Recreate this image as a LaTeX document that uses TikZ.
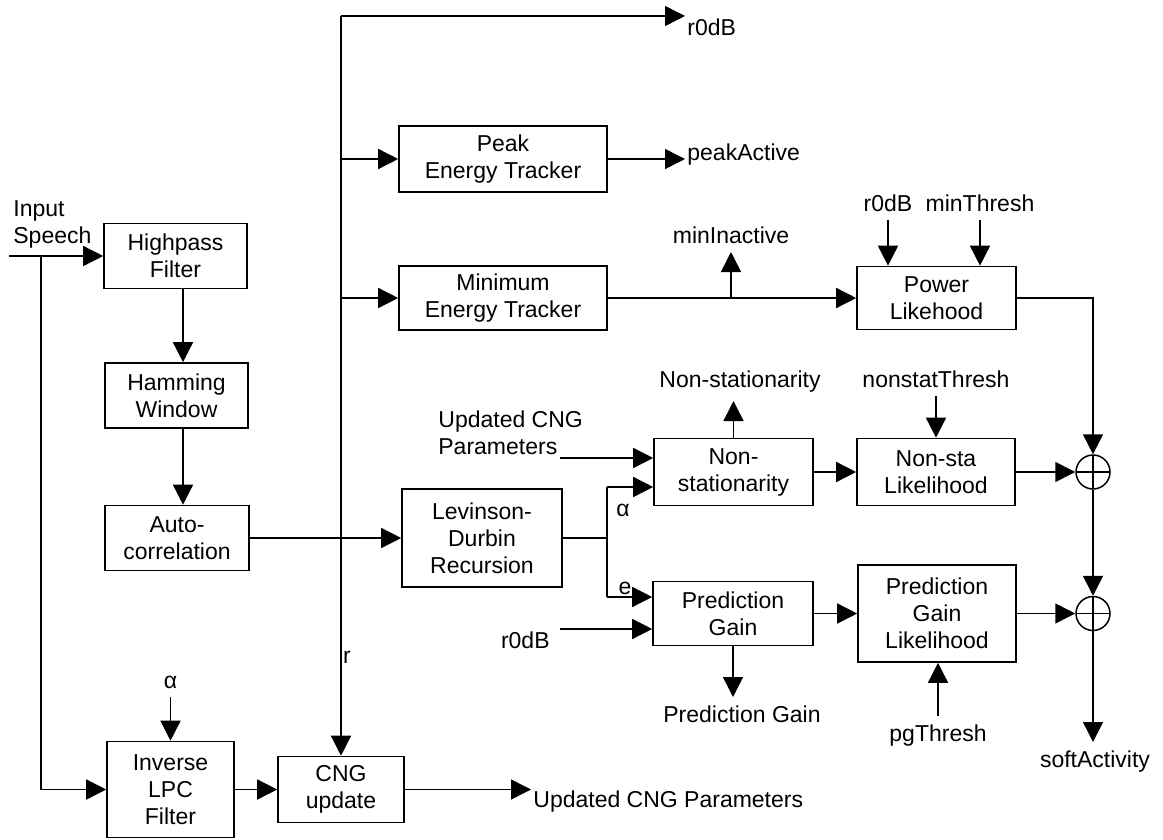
\documentclass[tikz,border=0pt]{standalone}
\usepackage{fontspec}
\setmainfont{Liberation Sans}
\usetikzlibrary{positioning,arrows.meta,shapes}

\begin{document}
\begin{tikzpicture}[
  x=0.5pt, y=-0.5pt,
  font=\fontsize{11.5}{13.5}\selectfont,
  blk/.style={rectangle, draw=black, line width=0.8pt, inner sep=2pt, align=center},
  lbl/.style={inner xsep=1pt, inner ysep=4pt},
  arr/.style={-{Triangle[length=10pt,width=10pt]}, line width=0.75pt},
  wire/.style={line width=0.75pt},
  sum/.style={circle, draw, line width=0.75pt, minimum size=17pt, inner sep=0pt,
              path picture={\draw[line width=0.75pt] (path picture bounding box.north) -- (path picture bounding box.south)
                            (path picture bounding box.west) -- (path picture bounding box.east);}}
]
\useasboundingbox (0,0) rectangle (1163,840);

% blocks
\node[blk, minimum width=71.5pt, minimum height=32.5pt] (hp)  at (175.5,256) {Highpass\\Filter};
\node[blk, minimum width=71.5pt, minimum height=32.5pt] (hw)  at (176.5,395.5) {Hamming\\Window};
\node[blk, minimum width=72pt,   minimum height=32.5pt] (ac)  at (177,538) {Auto-\\correlation};
\node[blk, minimum width=63.5pt, minimum height=48pt]   (lpc) at (170.5,789.5) {Inverse\\LPC\\Filter};
\node[blk, minimum width=63pt,   minimum height=33pt]   (cng) at (341,789.5) {CNG\\update};
\node[blk, minimum width=104pt,  minimum height=33pt]   (pk)  at (503,159) {Peak\\Energy Tracker};
\node[blk, minimum width=104pt,  minimum height=32pt]   (me)  at (503,298) {Minimum\\Energy Tracker};
\node[blk, minimum width=80pt,   minimum height=49pt]   (ld)  at (482,538) {Levinson-\\Durbin\\Recursion};
\node[blk, minimum width=79.5pt, minimum height=31.5pt] (pl)  at (936.5,298) {Power\\Likehood};
\node[blk, minimum width=79.5pt, minimum height=33.5pt] (ns)  at (733.5,472) {Non-\\stationarity};
\node[blk, minimum width=79pt,   minimum height=33.5pt] (nl)  at (936,472) {Non-sta\\Likelihood};
\node[blk, minimum width=80pt,   minimum height=32pt]   (pg)  at (733,613.5) {Prediction\\Gain};
\node[blk, minimum width=79pt,   minimum height=48.5pt] (gl)  at (937,613.5) {Prediction\\Gain\\Likelihood};
\node[sum] (s1) at (1093,472) {};
\node[sum] (s2) at (1093,613.5) {};

% labels
\node[anchor=north west, align=left, inner sep=1pt] (insp) at (11,198) {Input\\Speech};
\node[lbl, anchor=west]  (r0t)  at (685,27) {r0dB};
\node[lbl, anchor=west]  (pka)  at (685,155) {peakActive};
\node[lbl, anchor=south] (mina) at (731,252) {minInactive};
\node[lbl, anchor=south] (r0p)  at (888,220) {r0dB};
\node[lbl, anchor=south] (mth)  at (980,220) {minThresh};
\node[lbl, anchor=south] (nsa)  at (740,401) {Non-stationarity};
\node[lbl, anchor=south] (nth)  at (936,396) {nonstatThresh};
\node[anchor=north west, align=left, inner sep=1pt] (ucp) at (436,408) {Updated CNG\\Parameters};
\node[lbl, anchor=east]  (r0g)  at (552,640) {r0dB};
\node[lbl, anchor=north] (pga)  at (742,697) {Prediction Gain};
\node[lbl, anchor=north] (pgt)  at (938,716) {pgThresh};
\node[lbl, anchor=north] (sa)   at (1095,742) {softActivity};
\node[lbl, anchor=north west] (ucn) at (531,782) {Updated CNG Parameters};
\node[lbl, anchor=south] (al)   at (170.5,697) {α};
\node (rl) at (347,657) {r};
\node (ala) at (623,510) {α};
\node (el) at (625,588) {e};

\coordinate (ins) at (9,256);
\coordinate (ibr) at (41,256);
\coordinate (vx) at (183,0);
\coordinate (rtop) at (341,16);
\coordinate (jn) at (607,538);
\coordinate (ja) at (607,487);
\coordinate (je) at (607,597);
\coordinate (ucs) at (560,458);
\coordinate (r0s) at (560,629);

% connectors
\draw[arr] (ins) -- (hp.west);
\draw[arr] (ibr) |- (lpc.west);
\draw[arr] (hp.south -| vx) -- (hw.north -| vx);
\draw[arr] (hw.south -| vx) -- (ac.north -| vx);
\draw[arr] (ac.east) -- (ld.west);
\draw[arr] (al.south) -- (lpc.north);
\draw[arr] (lpc.east) -- (cng.west);
\draw[arr] (rtop) -- (cng.north);
\draw[arr] (rtop) -- (rtop -| r0t.west);
\draw[arr] (rtop |- pk.west) -- (pk.west);
\draw[arr] (rtop |- me.west) -- (me.west);
\draw[arr] (pk.east) -- (pk.east -| pka.west);
\draw[arr] (me.east) -- (pl.west);
\draw[arr] (me.east -| mina.south) -- (mina.south);
\draw[arr] (r0p.south) -- (r0p.south |- pl.north);
\draw[arr] (mth.south) -- (mth.south |- pl.north);
\draw[arr] (pl.east) -| (s1.north);
\draw[arr] (ucs) -- (ns.west |- ucs);
\draw[wire] (ld.east) -- (jn);
\draw[wire] (ja) -- (je);
\draw[arr] (ja) -- (ns.west |- ja);
\draw[arr] (je) -- (pg.west |- je);
\draw[arr] (r0s) -- (pg.west |- r0s);
\draw[arr] (ns.north) -- (ns.north |- nsa.south);
\draw[arr] (nth.south) -- (nth.south |- nl.north);
\draw[arr] (ns.east) -- (nl.west);
\draw[arr] (nl.east) -- (s1.west);
\draw[arr] (s1.south) -- (s2.north);
\draw[arr] (pg.east) -- (gl.west);
\draw[arr] (gl.east) -- (s2.west);
\draw[arr] (s2.south) -- (s2.south |- sa.north);
\draw[arr] (pg.south) -- (pg.south |- pga.north);
\draw[arr] (pgt.north) -- (pgt.north |- gl.south);
\draw[arr] (cng.east) -- (cng.east -| ucn.west);
\end{tikzpicture}
\end{document}
